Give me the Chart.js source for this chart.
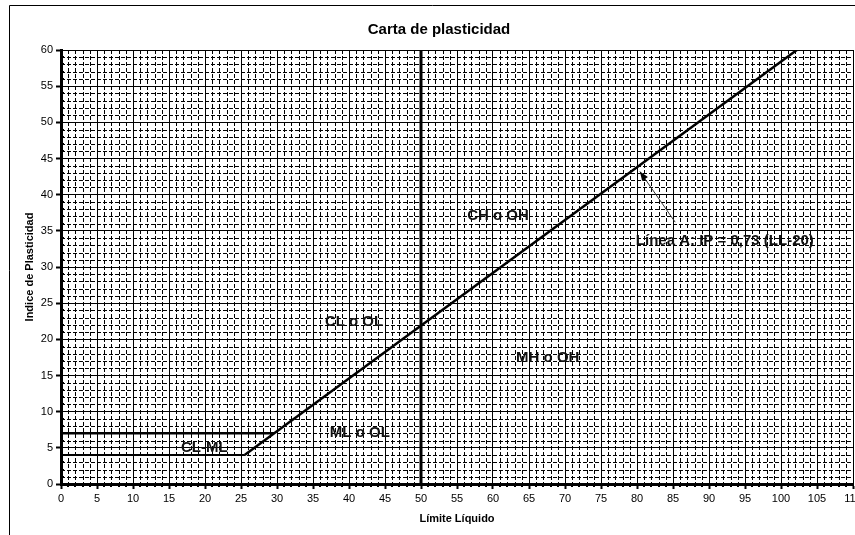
<!DOCTYPE html>
<html>
<head>
<meta charset="utf-8">
<script src="https://cdn.jsdelivr.net/npm/chart.js@4/dist/chart.umd.min.js"></script>
<style>
  html, body { margin: 0; padding: 0; background: #fff; }
  #wrap { width: 855px; height: 535px; overflow: hidden; }
</style>
</head>
<body>
<div id="wrap"><canvas id="chart" width="855" height="535"></canvas></div>
<script>
// ====== DATA ======
const xTicks = [0, 5, 10, 15, 20, 25, 30, 35, 40, 45, 50, 55, 60, 65, 70, 75, 80, 85, 90, 95, 100, 105, 110];
const yTicks = [0, 5, 10, 15, 20, 25, 30, 35, 40, 45, 50, 55, 60];

// Linea A: IP = 0.73 (LL - 20), from IP 4 up to IP 60
const lineA_LL = [25.5, 102.2];
const lineA_IP = [4, 60];
// CL-ML band limits
const clmlTop_LL = [0, 29.6];
const clmlTop_IP = [7, 7];
const clmlBot_LL = [0, 25.5];
const clmlBot_IP = [4, 4];
// LL = 50 divider
const ll50_LL = [50, 50];
const ll50_IP = [0, 60];
// arrow from the label to line A
const arrow_LL = [85.3, 80.4];
const arrow_IP = [36.2, 43.2];

const zoneNames = ['CL-ML', 'ML o OL', 'CL o OL', 'CH o OH', 'MH o OH', 'Línea A: IP = 0,73 (LL-20)'];
const zoneLL = [19.9, 41.5, 40.7, 60.7, 67.6, 92.2];
const zoneIP = [5.0, 7.1, 22.4, 37.1, 17.4, 33.6];

// ====== HELPERS ======
const pts = (xs, ys) => xs.map((x, i) => ({ x, y: ys[i] }));
const FONT = '"Liberation Sans", Arial, sans-serif';

// ====== PLUGINS ======
// frame + dashed minor grid (drawn under everything)
const paperGrid = {
  id: 'paperGrid',
  beforeDraw(chart) {
    const { ctx, chartArea: a, scales: { x, y } } = chart;
    ctx.save();
    ctx.strokeStyle = '#000';
    ctx.lineWidth = 1;
    ctx.beginPath();
    ctx.moveTo(9.5, 535); ctx.lineTo(9.5, 5.5); ctx.lineTo(855, 5.5);
    ctx.stroke();

    ctx.strokeStyle = '#000';
    ctx.setLineDash([4, 2]);
    ctx.beginPath();
    for (let v = x.min + 1; v < x.max; v++) {
      if (v % 5 === 0) continue;
      const px = Math.round(x.getPixelForValue(v)) + 0.5;
      ctx.moveTo(px, a.top); ctx.lineTo(px, a.bottom);
    }
    for (let v = y.min + 1; v < y.max; v++) {
      if (v % 5 === 0) continue;
      const py = Math.round(y.getPixelForValue(v)) + 0.5;
      ctx.moveTo(a.left, py); ctx.lineTo(a.right, py);
    }
    ctx.stroke();
    ctx.restore();
  },
  afterDraw(chart) {
    const { ctx, chartArea: a, scales: { x, y } } = chart;
    ctx.save();
    // small minor ticks on both axes
    ctx.fillStyle = '#000';
    for (let v = x.min + 1; v < x.max; v++) {
      if (v % 5 === 0) continue;
      ctx.fillRect(Math.round(x.getPixelForValue(v)) - 1, a.bottom, 2, 3);
    }
    for (let v = y.min + 1; v < y.max; v++) {
      if (v % 5 === 0) continue;
      ctx.fillRect(a.left, Math.round(y.getPixelForValue(v)) - 1, 3, 2);
    }
    // chart title, centred on the whole (wider) sheet
    ctx.fillStyle = '#000';
    ctx.font = 'bold 15px ' + FONT;
    ctx.textAlign = 'center';
    ctx.textBaseline = 'middle';
    ctx.fillText('Carta de plasticidad', 439, 30);
    ctx.restore();
  }
};

// zone names + arrow head
const zoneLabels = {
  id: 'zoneLabels',
  afterDatasetsDraw(chart) {
    const { ctx, scales: { x, y } } = chart;
    ctx.save();
    ctx.fillStyle = '#111';
    ctx.font = 'bold 15px ' + FONT;
    ctx.textAlign = 'center';
    ctx.textBaseline = 'middle';
    zoneNames.forEach((t, i) => {
      ctx.fillText(t, x.getPixelForValue(zoneLL[i]), y.getPixelForValue(zoneIP[i]));
    });
    // arrow head at the end of the arrow dataset
    const meta = chart.getDatasetMeta(4).data;
    const p0 = meta[0], p1 = meta[1];
    const ang = Math.atan2(p1.y - p0.y, p1.x - p0.x);
    const L = 9, W = 3.5;
    ctx.fillStyle = '#000';
    ctx.beginPath();
    ctx.moveTo(p1.x, p1.y);
    ctx.lineTo(p1.x - L * Math.cos(ang) + W * Math.sin(ang), p1.y - L * Math.sin(ang) - W * Math.cos(ang));
    ctx.lineTo(p1.x - L * Math.cos(ang) - W * Math.sin(ang), p1.y - L * Math.sin(ang) + W * Math.cos(ang));
    ctx.closePath();
    ctx.fill();
    ctx.restore();
  }
};

// ====== CHART ======
const lineDs = (data, w, color) => ({
  data, showLine: true, borderColor: color || '#000', borderWidth: w,
  pointRadius: 0, pointHoverRadius: 0, fill: false, tension: 0
});

new Chart(document.getElementById('chart'), {
  type: 'scatter',
  data: {
    datasets: [
      lineDs(pts(lineA_LL, lineA_IP), 2.5),
      lineDs(pts(clmlTop_LL, clmlTop_IP), 2.5),
      lineDs(pts(clmlBot_LL, clmlBot_IP), 2),
      lineDs(pts(ll50_LL, ll50_IP), 3),
      lineDs(pts(arrow_LL, arrow_IP), 1, '#333')
    ]
  },
  options: {
    responsive: false,
    animation: false,
    layout: { padding: { left: 12, top: 50, right: 2, bottom: 0 } },
    plugins: { legend: { display: false }, tooltip: { enabled: false }, title: { display: false } },
    scales: {
      x: {
        type: 'linear', min: 0, max: 110,
        afterBuildTicks: s => { s.ticks = xTicks.map(v => ({ value: v })); },
        afterFit: s => { s.height = 51; s.paddingLeft = 0; s.paddingRight = 0; },
        ticks: { color: '#000', font: { family: FONT, size: 11 }, padding: 3, maxRotation: 0, autoSkip: false },
        grid: { color: '#000', lineWidth: 1, tickLength: 5, tickWidth: 2, tickColor: '#000' },
        border: { display: true, color: '#000', width: 3 },
        title: { display: true, text: 'Límite Líquido', color: '#000', font: { family: FONT, size: 11, weight: 'bold' }, padding: { top: 0, bottom: 9 } }
      },
      y: {
        type: 'linear', min: 0, max: 60,
        afterBuildTicks: s => { s.ticks = yTicks.map(v => ({ value: v })); },
        afterFit: s => { s.width = 49; s.paddingTop = 0; s.paddingBottom = 0; },
        ticks: { color: '#000', font: { family: FONT, size: 11 }, padding: 3, autoSkip: false },
        grid: { color: '#000', lineWidth: 1, tickLength: 5, tickWidth: 2, tickColor: '#000' },
        border: { display: true, color: '#000', width: 3 },
        title: { display: true, text: 'Indice de Plasticidad', color: '#000', font: { family: FONT, size: 11, weight: 'bold' }, padding: { top: 11, bottom: 0 } }
      }
    }
  },
  plugins: [paperGrid, zoneLabels]
});
</script>
</body>
</html>
